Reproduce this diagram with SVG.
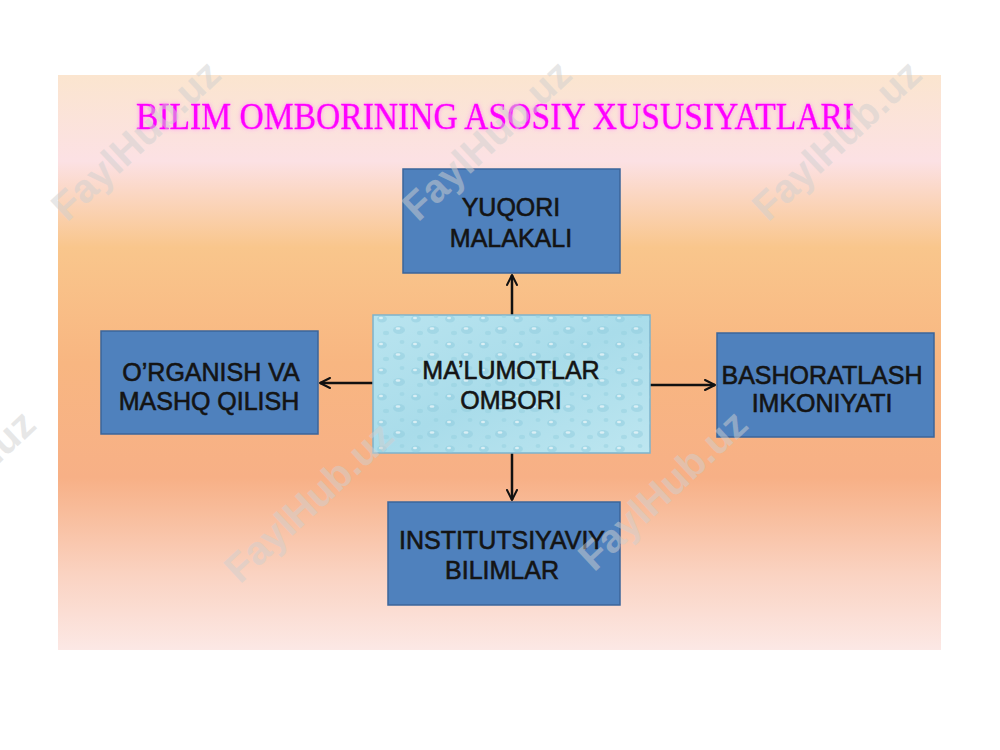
<svg xmlns="http://www.w3.org/2000/svg" width="1000" height="750" viewBox="0 0 1000 750">
<defs>
<linearGradient id="bg" x1="0" y1="0" x2="0" y2="1">
<stop offset="0" stop-color="#FBE5CF"/>
<stop offset="0.15" stop-color="#FCE1E4"/>
<stop offset="0.3" stop-color="#F9C68C"/>
<stop offset="0.5" stop-color="#F8B681"/>
<stop offset="0.7" stop-color="#F7B086"/>
<stop offset="0.87" stop-color="#FAD3C2"/>
<stop offset="1" stop-color="#FCE8E5"/>
</linearGradient>
<linearGradient id="water" x1="0" y1="0" x2="1" y2="1">
<stop offset="0" stop-color="#B9E4EF"/>
<stop offset="0.5" stop-color="#A9DCEA"/>
<stop offset="1" stop-color="#BDE6F0"/>
</linearGradient>
<pattern id="drops" width="34" height="26" patternUnits="userSpaceOnUse">
<ellipse cx="8" cy="7" rx="5" ry="3.5" fill="#8FCBDD" opacity="0.5"/>
<ellipse cx="7" cy="6" rx="2" ry="1.2" fill="#FFFFFF" opacity="0.6"/>
<ellipse cx="25" cy="18" rx="6" ry="4" fill="#8FCBDD" opacity="0.45"/>
<ellipse cx="24" cy="16.5" rx="2.4" ry="1.3" fill="#FFFFFF" opacity="0.6"/>
<ellipse cx="28" cy="4" rx="2.5" ry="2" fill="#93CEDF" opacity="0.45"/>
<ellipse cx="12" cy="21" rx="3" ry="2.2" fill="#93CEDF" opacity="0.45"/>
</pattern>
<marker id="arr" viewBox="0 0 12 12" refX="11" refY="6" markerWidth="12" markerHeight="12" markerUnits="userSpaceOnUse" orient="auto">
<path d="M1,1 L11,6 L1,11" fill="none" stroke="#111" stroke-width="2" stroke-linecap="round" stroke-linejoin="round"/>
</marker>
<filter id="glow" x="-5%" y="-30%" width="110%" height="160%">
<feGaussianBlur in="SourceAlpha" stdDeviation="2" result="b"/>
<feFlood flood-color="#FF66FF" flood-opacity="0.6"/>
<feComposite in2="b" operator="in" result="g"/>
<feMerge><feMergeNode in="g"/><feMergeNode in="SourceGraphic"/></feMerge>
</filter>
</defs>
<style>
.box{fill:#4F81BD;stroke:#3B659A;stroke-width:1.5}
.lbl{font-family:"Liberation Sans",Arial,sans-serif;font-size:25px;fill:#141414;text-anchor:middle;stroke:#141414;stroke-width:0.6}
.con{stroke:#111;stroke-width:2.5;fill:none}
.wm{font-family:"Liberation Sans",Arial,sans-serif;font-weight:bold;font-size:40px;fill:#CFCFCF;fill-opacity:0.5;text-anchor:middle}
</style>
<rect width="1000" height="750" fill="#FFFFFF"/>
<rect x="58" y="75" width="883" height="575" fill="url(#bg)"/>
<text x="495" y="129" font-family="Liberation Serif,Times New Roman,serif" font-size="38" fill="#FF00FF" stroke="#FF00FF" stroke-width="0.4" text-anchor="middle" textLength="718" lengthAdjust="spacingAndGlyphs" filter="url(#glow)">BILIM OMBORINING ASOSIY XUSUSIYATLARI</text>
<g id="connectors">
<line class="con" x1="512" y1="315" x2="512" y2="275" marker-end="url(#arr)"/>
<line class="con" x1="373" y1="383" x2="320" y2="383" marker-end="url(#arr)"/>
<line class="con" x1="650" y1="385" x2="715" y2="385" marker-end="url(#arr)"/>
<line class="con" x1="512" y1="453" x2="512" y2="500" marker-end="url(#arr)"/>
</g>
<g id="center">
<rect x="373" y="315" width="277" height="138" fill="url(#water)" stroke="#7DB3CC" stroke-width="1.5"/>
<rect x="373" y="315" width="277" height="138" fill="url(#drops)"/>
<text class="lbl" x="511" y="379" font-size="26">MA’LUMOTLAR</text>
<text class="lbl" x="511" y="409" font-size="26">OMBORI</text>
</g>
<g id="top">
<rect class="box" x="403" y="169" width="217" height="104"/>
<text class="lbl" x="511" y="216">YUQORI</text>
<text class="lbl" x="511" y="247">MALAKALI</text>
</g>
<g id="left">
<rect class="box" x="101" y="331" width="217" height="103"/>
<text class="lbl" x="211" y="381">O’RGANISH VA</text>
<text class="lbl" x="209" y="410">MASHQ QILISH</text>
</g>
<g id="right">
<rect class="box" x="717" y="333" width="217" height="104"/>
<text class="lbl" x="822" y="384" font-size="24">BASHORATLASH</text>
<text class="lbl" x="822" y="412" font-size="24">IMKONIYATI</text>
</g>
<g id="bottom">
<rect class="box" x="388" y="502" width="232" height="103"/>
<text class="lbl" x="502" y="549" font-size="24">INSTITUTSIYAVIY</text>
<text class="lbl" x="502" y="579" font-size="24">BILIMLAR</text>
</g>
<g id="watermarks">
<text class="wm" transform="translate(145,150) rotate(-43)">FaylHub.uz</text>
<text class="wm" transform="translate(496,150) rotate(-43)">FaylHub.uz</text>
<text class="wm" transform="translate(846,150) rotate(-43)">FaylHub.uz</text>
<text class="wm" transform="translate(-40,500) rotate(-43)">FaylHub.uz</text>
<text class="wm" transform="translate(318,512) rotate(-43)">FaylHub.uz</text>
<text class="wm" transform="translate(672,500) rotate(-43)">FaylHub.uz</text>
</g>
</svg>
